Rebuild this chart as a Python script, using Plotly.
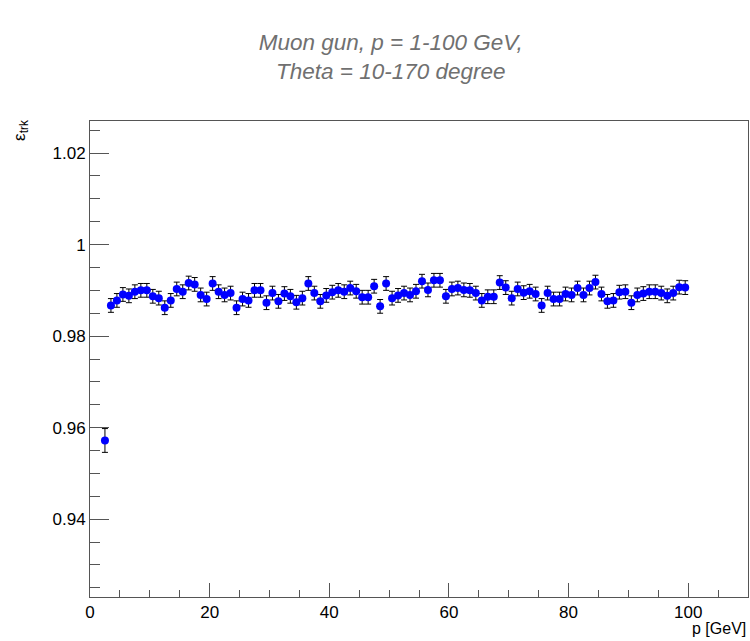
import plotly.graph_objects as go

# bin centres [GeV]
p_gev = [2.5 + i for i in range(98)]

eff = [
  0.9572, 0.9867, 0.9878, 0.9891, 0.9888, 0.9897, 0.9900, 0.9900, 0.9887, 0.9883,
  0.9862, 0.9878, 0.9903, 0.9897, 0.9916, 0.9913, 0.9890, 0.9881, 0.9915, 0.9897,
  0.9890, 0.9894, 0.9862, 0.9881, 0.9878, 0.9900, 0.9900, 0.9873, 0.9894, 0.9876,
  0.9893, 0.9887, 0.9874, 0.9883, 0.9915, 0.9894, 0.9876, 0.9889, 0.9896, 0.9900,
  0.9897, 0.9905, 0.9898, 0.9885, 0.9885, 0.9909, 0.9865, 0.9915, 0.9883, 0.9889,
  0.9894, 0.9890, 0.9898, 0.9920, 0.9901, 0.9922, 0.9922, 0.9887, 0.9903, 0.9905,
  0.9901, 0.9900, 0.9894, 0.9878, 0.9886, 0.9886, 0.9917, 0.9906, 0.9883, 0.9903,
  0.9895, 0.9898, 0.9892, 0.9867, 0.9894, 0.9881, 0.9881, 0.9892, 0.9890, 0.9905,
  0.9890, 0.9905, 0.9918, 0.9892, 0.9876, 0.9878, 0.9896, 0.9897, 0.9873, 0.9890,
  0.9893, 0.9897, 0.9897, 0.9894, 0.9888, 0.9894, 0.9907, 0.9906,
]

eff_err = [0.0026] + [0.0015] * 97

FONT = 'Liberation Sans, Arial, sans-serif'

fig = go.Figure()
fig.add_trace(go.Scatter(
  x = p_gev, y = eff, mode = 'markers',
  marker = dict(color = 'rgb(0,0,255)', size = 8, symbol = 'circle'),
  error_y = dict(type = 'data', array = eff_err, color = 'black', thickness = 1, width = 3),
  showlegend = False,
))

axis_font = dict(family = FONT, size = 17, color = 'black')

fig.update_layout(
  width = 750, height = 641,
  paper_bgcolor = 'white', plot_bgcolor = 'white',
  margin = dict(l = 90, r = 2, t = 121, b = 44),
  font = axis_font,
  title = dict(
    text = 'Muon gun, p = 1-100 GeV,<br>Theta = 10-170 degree',
    x = 0.521, xanchor = 'center', y = 0.922, yanchor = 'top',
    font = dict(family = FONT, size = 22.5, color = '#707070', style = 'italic'),
  ),
)

fig.update_xaxes(
  range = [0, 110], showgrid = False, zeroline = False,
  showline = True, linecolor = '#555555', linewidth = 1, mirror = True,
  ticks = 'inside', ticklen = 14, tickcolor = '#555555',
  tickmode = 'array', tickvals = [0, 20, 40, 60, 80, 100],
  minor = dict(ticks = 'inside', ticklen = 7, dtick = 5, tick0 = 0, tickcolor = '#555555', showgrid = False),
  tickfont = axis_font, automargin = False,
)
fig.update_yaxes(
  range = [0.923, 1.027], showgrid = False, zeroline = False,
  showline = True, linecolor = '#555555', linewidth = 1, mirror = True,
  ticks = 'inside', ticklen = 19, tickcolor = '#555555',
  tickmode = 'array', tickvals = [0.94, 0.96, 0.98, 1.0, 1.02],
  ticktext = ['0.94', '0.96', '0.98', '1', '1.02'],
  minor = dict(ticks = 'inside', ticklen = 10, dtick = 0.005, tick0 = 0.94, tickcolor = '#555555', showgrid = False),
  tickfont = axis_font, automargin = False,
)

fig.add_annotation(
  text = 'ε<sub>trk</sub>', textangle = -90,
  xref = 'paper', yref = 'paper', x = -0.106, y = 1.006, xanchor = 'center', yanchor = 'top',
  showarrow = False, font = dict(family = FONT, size = 17, color = 'black'),
)
fig.add_annotation(
  text = 'p [GeV]',
  xref = 'paper', yref = 'paper', x = 1.0, y = -0.045, xanchor = 'right', yanchor = 'top',
  showarrow = False, font = dict(family = FONT, size = 16, color = 'black'),
)

# page body has an 8px default margin; drop it so the figure sits at 0,0
fig.write_html('out.html', config = {'displayModeBar': False},
               post_script = "document.body.style.margin = '0';")
